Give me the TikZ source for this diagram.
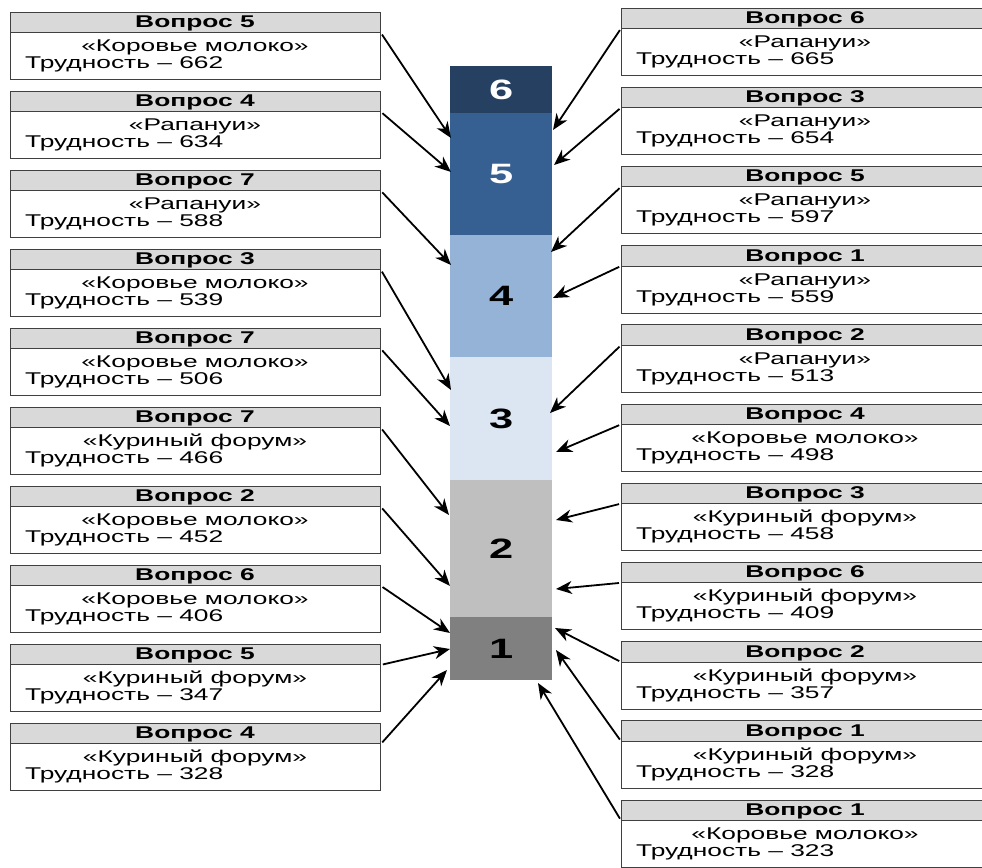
\documentclass[tikz,border=0pt]{standalone}
\usepackage{fontspec}
\setmainfont[FakeStretch=1.55]{Liberation Sans}
\usetikzlibrary{arrows.meta,calc}
\definecolor{c6}{HTML}{254061}
\definecolor{c5}{HTML}{366092}
\definecolor{c4}{HTML}{95B3D7}
\definecolor{c3}{HTML}{DCE6F2}
\definecolor{c2}{HTML}{BFBFBF}
\definecolor{c1}{HTML}{808080}
\definecolor{hd}{HTML}{D9D9D9}
\tikzset{
  boxbody/.style={fill=white, minimum height=67pt, minimum width=370pt, inner sep=0pt, anchor=north west},
  boxhead/.style={fill=hd, minimum height=20pt, minimum width=370pt, inner sep=0pt, anchor=north west},
  edge/.style={draw=black!75, line width=0.9pt},
  ttl/.style={anchor=base, inner sep=0pt, font=\fontsize{17}{19}\selectfont},
  hdtxt/.style={anchor=base, inner sep=0pt, font=\fontsize{17}{19}\selectfont\bfseries},
  dif/.style={anchor=base west, inner sep=0pt, font=\fontsize{17}{19}\selectfont},
  seg/.style={minimum width=102pt, inner sep=0pt, anchor=north west, font=\fontsize{28}{30}\selectfont\bfseries},
  arr/.style={-{Stealth[length=16pt,width=13pt,inset=5pt]}, line width=1.8pt, shorten <=2pt},
}
% left box: closed frame
\newcommand\LQBox[7]{% name, x left, x center, y top, number, title, difficulty
  \node[boxbody, edge] (#1) at (#2,#4) {};
  \node[boxhead, edge] (#1h) at (#2,#4) {};
  \node[hdtxt] (#1a) at (#3,#4+15.5) {Вопрос #5};
  \node[ttl] (#1b) at (#3,#4+39.5) {«#6»};
  \node[dif] (#1c) at (#2+15,#4+56.5) {Трудность – #7};
}
% right box: runs past the right edge of the picture, no right side
\newcommand\RQBox[7]{%
  \node[boxbody, minimum width=400pt] (#1) at (#2,#4) {};
  \node[boxhead, minimum width=400pt] (#1h) at (#2,#4) {};
  \draw[edge] (#1.north east) -- (#1.north west) -- (#1.south west) -- (#1.south east);
  \draw[edge] (#1h.south west) -- (#1h.south east);
  \node[hdtxt] (#1a) at (#3,#4+15.5) {Вопрос #5};
  \node[ttl] (#1b) at (#3,#4+39.5) {«#6»};
  \node[dif] (#1c) at (#2+15,#4+56.5) {Трудность – #7};
}
\begin{document}
\begin{tikzpicture}[x=1pt,y=-1pt]
\useasboundingbox (0,0) rectangle (982,867);
\clip (0,0) rectangle (982,867);
\fill[white] (0,0) rectangle (982,867);
% column
\node[seg, fill=c6, text=white, minimum height=47pt] (s6) at (450,66) {6};
\node[seg, fill=c5, text=white, minimum height=122pt] (s5) at (450,113) {5};
\node[seg, fill=c4, minimum height=122pt] (s4) at (450,235) {4};
\node[seg, fill=c3, minimum height=123pt] (s3) at (450,357) {3};
\node[seg, fill=c2, minimum height=137pt] (s2) at (450,480) {2};
\node[seg, fill=c1, minimum height=63pt] (s1) at (450,617) {1};
% left boxes
\LQBox{L1}{10}{195}{12}{5}{Коровье молоко}{662}
\LQBox{L2}{10}{195}{91}{4}{Рапануи}{634}
\LQBox{L3}{10}{195}{170}{7}{Рапануи}{588}
\LQBox{L4}{10}{195}{249}{3}{Коровье молоко}{539}
\LQBox{L5}{10}{195}{328}{7}{Коровье молоко}{506}
\LQBox{L6}{10}{195}{407}{7}{Куриный форум}{466}
\LQBox{L7}{10}{195}{486}{2}{Коровье молоко}{452}
\LQBox{L8}{10}{195}{565}{6}{Коровье молоко}{406}
\LQBox{L9}{10}{195}{644}{5}{Куриный форум}{347}
\LQBox{L10}{10}{195}{723}{4}{Куриный форум}{328}
% right boxes
\RQBox{R1}{621}{805}{8}{6}{Рапануи}{665}
\RQBox{R2}{621}{805}{87.2}{3}{Рапануи}{654}
\RQBox{R3}{621}{805}{166.4}{5}{Рапануи}{597}
\RQBox{R4}{621}{805}{245.6}{1}{Рапануи}{559}
\RQBox{R5}{621}{805}{324.8}{2}{Рапануи}{513}
\RQBox{R6}{621}{805}{404}{4}{Коровье молоко}{498}
\RQBox{R7}{621}{805}{483.2}{3}{Куриный форум}{458}
\RQBox{R8}{621}{805}{562.4}{6}{Куриный форум}{409}
\RQBox{R9}{621}{805}{641.6}{2}{Куриный форум}{357}
\RQBox{R10}{621}{805}{720.8}{1}{Куриный форум}{328}
\RQBox{R11}{621}{805}{800}{1}{Коровье молоко}{323}
% arrow tips
\coordinate (tL1) at (451,138);
\coordinate (tL2) at (451,172);
\coordinate (tL3) at (451,265);
\coordinate (tL4) at (451,390);
\coordinate (tL5) at (450,426);
\coordinate (tL6) at (449,515);
\coordinate (tL7) at (450,586);
\coordinate (tL8) at (450,633);
\coordinate (tL9) at (450,649);
\coordinate (tL10) at (447,670);
\coordinate (tR1) at (553,130);
\coordinate (tR2) at (554,165);
\coordinate (tR3) at (551,252);
\coordinate (tR4) at (553,298);
\coordinate (tR5) at (550,413);
\coordinate (tR6) at (556,452);
\coordinate (tR7) at (556,520);
\coordinate (tR8) at (556,589);
\coordinate (tR9) at (555,628);
\coordinate (tR10) at (556,650);
\coordinate (tR11) at (538,683);
% arrows
\foreach \i in {1,...,10} {\draw[arr] (L\i h.south east) -- (tL\i);}
\foreach \i in {1,...,11} {\draw[arr] (R\i h.south west) -- (tR\i);}
\end{tikzpicture}
\end{document}
